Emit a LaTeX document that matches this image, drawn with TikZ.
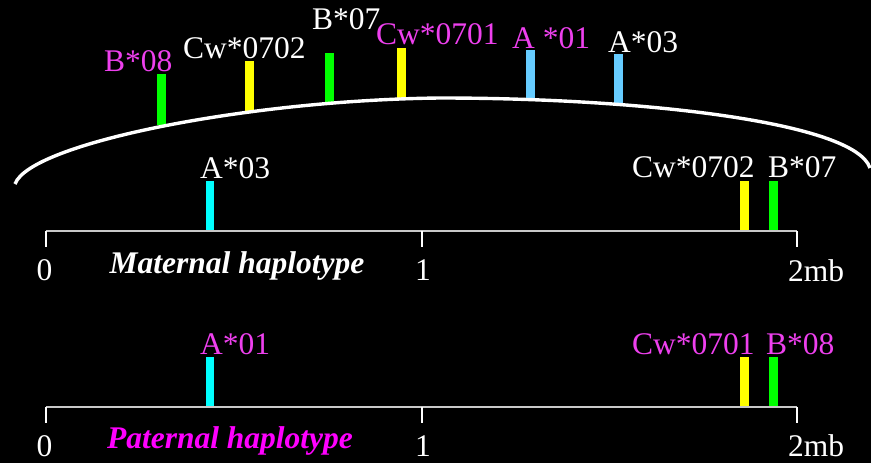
\documentclass[tikz,border=0pt]{standalone}
\usepackage{fontspec}
\setmainfont{Liberation Serif}
\definecolor{mag}{RGB}{238,64,238}
\definecolor{pmag}{RGB}{255,0,255}
\definecolor{lblue}{RGB}{102,204,255}
\definecolor{axgray}{RGB}{200,200,200}
\definecolor{bcyan}{RGB}{0,255,255}
\definecolor{byellow}{RGB}{255,255,0}
\definecolor{bgreen}{RGB}{0,255,0}
\begin{document}
\begin{tikzpicture}[x=1pt,y=-1pt,
  lbl/.style={inner sep=0pt,anchor=base west,font=\fontsize{31.5}{36}\selectfont},
  tick/.style={inner sep=0pt,anchor=base,font=\fontsize{31.5}{36}\selectfont,text=white},
  axis/.style={draw=axgray,line width=1.6pt},
  tk/.style={draw=white,line width=1.6pt},
  hap/.style={inner sep=0pt,anchor=base,font=\fontsize{31.5}{36}\selectfont\bfseries\itshape}]
\fill[black] (0,0) rectangle (871,463);
\useasboundingbox (0,0) rectangle (871,463);

% ---- top recombinant bars
\fill[bgreen]  (157,74) rectangle (166,125);
\fill[byellow] (245,61) rectangle (254,111);
\fill[bgreen]  (325,53) rectangle (334,104);
\fill[byellow] (397,48) rectangle (406,100);
\fill[lblue]   (526,50) rectangle (535,100);
\fill[lblue]   (614,54) rectangle (623,104);

\coordinate (cl) at (15,184);
\coordinate (cm) at (440,98);
\coordinate (cr) at (870,168);
\draw[white,line width=3.4pt] (cl) .. controls (30,143) and (250,100) .. (cm)
  .. controls (640,98) and (855,122) .. (cr);

\node[lbl,text=mag]   (t1) at (104,71) {B*08};
\node[lbl,text=white] (t2) at (183,58) {Cw*0702};
\node[lbl,text=white] (t3) at (312,29) {B*07};
\node[lbl,text=mag]   (t4) at (376,45) {Cw*0701};
\node[lbl,text=mag]   (t5) at (512,48) {A *01};
\node[lbl,text=white] (t6) at (608,52) {A*03};

% ---- maternal
\fill[bcyan]   (206,181) rectangle (214,231);
\fill[byellow] (740,181) rectangle (749,231);
\fill[bgreen]  (769,181) rectangle (778,231);
\node[lbl,text=white] (m1) at (200,178) {A*03};
\node[lbl,text=white] (m2) at (632,177) {Cw*0702};
\node[lbl,text=white] (m3) at (768,177) {B*07};

\coordinate (ma) at (46,231);
\coordinate (mb) at (422,231);
\coordinate (mc) at (797,231);
\draw[axis] (ma) -- (mc);
\draw[tk] (ma) -- ++(0,16);
\draw[tk] (mb) -- ++(0,16);
\draw[tk] (mc) -- ++(0,16);
\node[tick] (m0) at (44.5,280) {0};
\node[tick] (m11) at (423,280) {1};
\node[lbl,text=white] (m2mb) at (788,281) {2mb};
\node[hap,text=white] (mh) at (237,273) {Maternal haplotype};

% ---- paternal
\fill[bcyan]   (206,357) rectangle (214,407);
\fill[byellow] (740,357) rectangle (749,407);
\fill[bgreen]  (769,357) rectangle (778,407);
\node[lbl,text=mag] (p1) at (200,354) {A*01};
\node[lbl,text=mag] (p2) at (632,354) {Cw*0701};
\node[lbl,text=mag] (p3) at (766,354) {B*08};

\coordinate (pa) at (46,407);
\coordinate (pb) at (422,407);
\coordinate (pc) at (797,407);
\draw[axis] (pa) -- (pc);
\draw[tk] (pa) -- ++(0,16);
\draw[tk] (pb) -- ++(0,16);
\draw[tk] (pc) -- ++(0,16);
\node[tick] (p0) at (44.5,456) {0};
\node[tick] (p11) at (423,456) {1};
\node[lbl,text=white] (p2mb) at (788,456) {2mb};
\node[hap,text=pmag] (ph) at (230,448) {Paternal haplotype};
\end{tikzpicture}
\end{document}
